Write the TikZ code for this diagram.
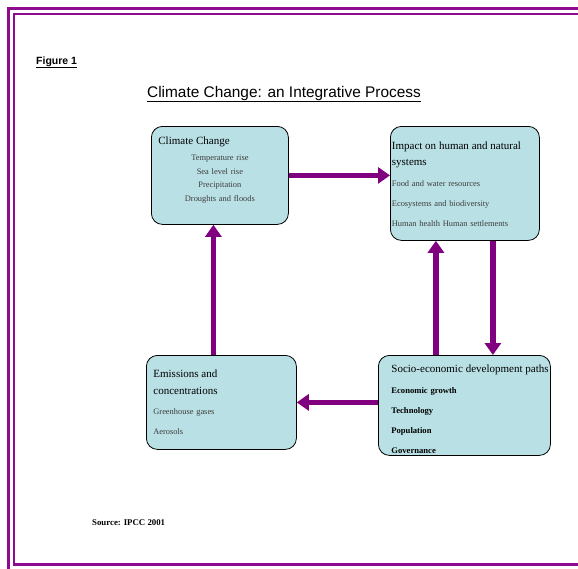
\documentclass[tikz,border=0pt]{standalone}
\usepackage{fontspec}
\setmainfont{Liberation Serif}
\newfontfamily\arialfont{Liberation Sans}
\usetikzlibrary{arrows.meta}
\usetikzlibrary{positioning}
\definecolor{boxcyan}{HTML}{B9E0E4}
\definecolor{framepurple}{HTML}{8E0A8E}
\definecolor{arrowpurple}{HTML}{800080}
\definecolor{itemgray}{HTML}{3C3C3C}
\newcommand\hd[1]{{\fontsize{11}{13}\selectfont #1}}
\newcommand\itm[1]{\textcolor{itemgray}{#1}}
\newcommand\ind{\hspace*{10pt}}

\begin{document}
\begin{tikzpicture}[x=1pt,y=-1pt,
  box/.style = {draw,line width=0.8pt,rounded corners=11pt,fill=boxcyan,
        anchor=north west,inner ysep=0pt,align=left,
        font=\fontsize{8.4}{20}\selectfont},
  label/.style = {anchor=base west,inner sep=0pt},
  flow/.style = {line width=5.5pt,draw=arrowpurple,
        -{Triangle[length=12pt,width=16pt]}},
  frame/.style = {line width=2.4pt,draw=framepurple}
]
 \useasboundingbox (0,0) rectangle (578,568);
 \clip (0,0) rectangle (578,568);
 % double frame
 \draw[frame] (8.5,600) -- (8.5,8.5) -- (600,8.5);
 \draw[frame] (600,13.8) -- (14,13.8) -- (14,564.6) -- (600,564.6);

 \node[label,font=\arialfont\bfseries\fontsize{10.5}{12}\selectfont] (fig) at (36,64) {\underline{Figure 1}};
 \node[label,font=\arialfont\fontsize{15.4}{18}\selectfont] (title) at (147,97) {\underline{Climate Change: an Integrative Process}};

 \node[box,align=center,inner xsep=7pt,minimum width=137pt,text width=123pt,
       text height=18pt,text depth=80pt,font=\fontsize{8.4}{13.6}\selectfont] (climate) at (151,126)
   {\makebox[123pt][l]{\hd{Climate Change}}\\[2.4pt]
    \itm{Temperature rise}\\ \itm{Sea level rise}\\ \itm{Precipitation}\\ \itm{Droughts and floods}};
 \node[box,inner xsep=1.5pt,minimum width=149pt,text width=146pt,
       text height=23pt,text depth=91pt] (impact) at (390,126)
   {\hd{Impact on human and natural}\\[-4pt] \hd{systems}\\[1pt]
    \itm{Food and water resources}\\ \itm{Ecosystems and biodiversity}\\ \itm{Human health Human settlements}};
 \node[box,inner xsep=7pt,minimum width=150pt,text width=136pt,
       text height=22pt,text depth=72pt] (emis) at (146,355)
   {\hd{Emissions and}\\[-3pt] \hd{concentrations}\\
    \itm{Greenhouse gases}\\ \itm{Aerosols}};
 \node[box,inner xsep=3pt,minimum width=172pt,text width=166pt,
       text height=17pt,text depth=83pt,font=\bfseries\fontsize{8.6}{20}\selectfont] (socio) at (378,355)
   {\ind\mbox{\mdseries\hd{Socio-economic development paths}}\\[1pt]
    \ind Economic growth\\ \ind Technology\\ \ind Population\\ \ind Governance};

 \node[label,font=\bfseries\fontsize{8.8}{11}\selectfont] (src) at (92,525) {Source: IPCC 2001};

 \draw[flow] (climate.east) -- (climate.east -| impact.west);
 \draw[flow] ([xshift=28pt]impact.south) -- ([xshift=28pt]impact.south |- socio.north);
 \draw[flow] ([xshift=-29pt]impact.south |- socio.north) -- ([xshift=-29pt]impact.south);
 \draw[flow] (emis.east -| socio.west) -- (emis.east);
 \draw[flow] ([xshift=-8pt]emis.north) -- ([xshift=-8pt]emis.north |- climate.south);
\end{tikzpicture}
\end{document}
